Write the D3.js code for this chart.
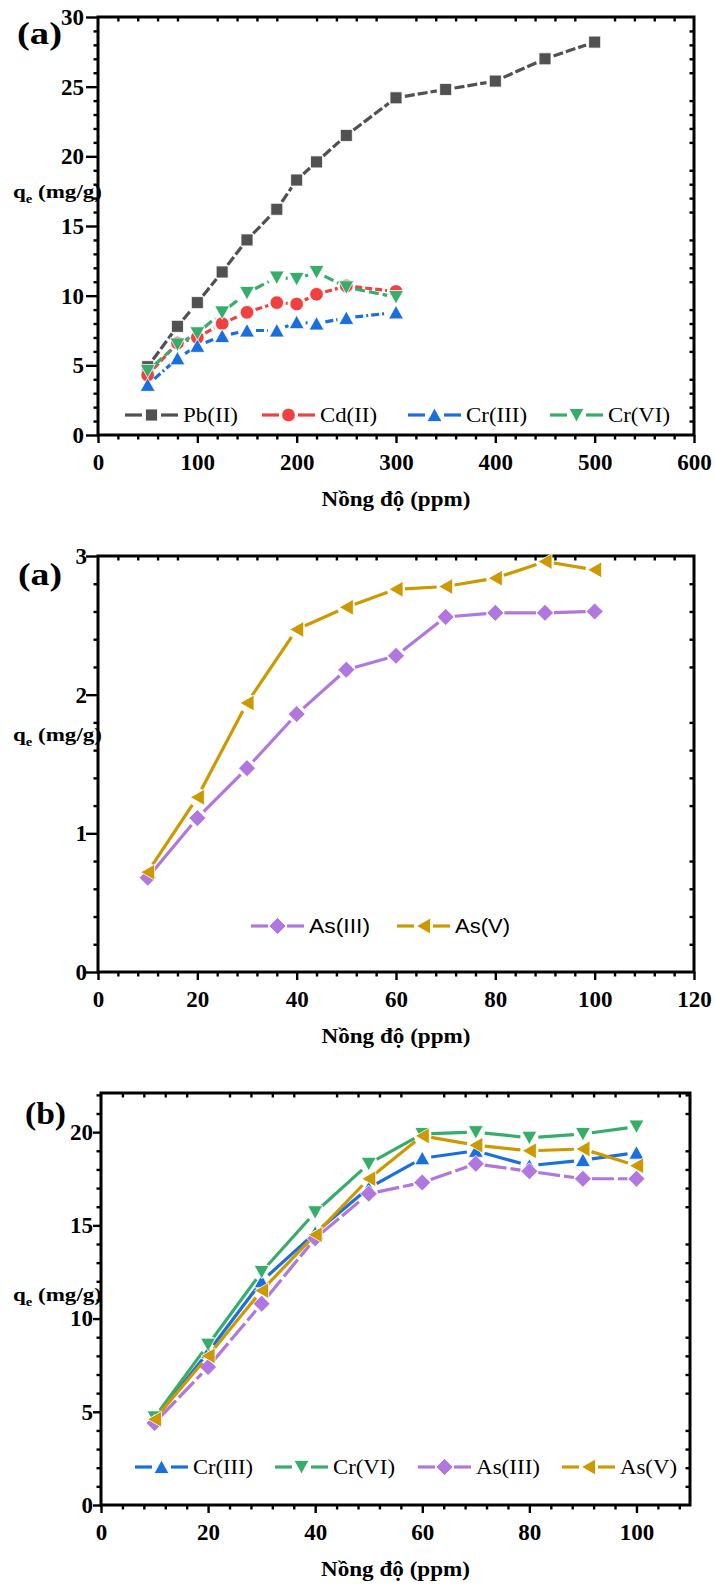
<!DOCTYPE html>
<html>
<head>
<meta charset="utf-8">
<script src="https://cdn.jsdelivr.net/npm/d3@7"></script>
<style>
  body { margin: 0; background: #fff; }
  svg { display: block; }
</style>
</head>
<body>
<div id="chart"></div>
<script>
// ---- data ----
// panel 1 : Pb, Cd, Cr(III), Cr(VI)
const concPb = [50, 80, 100, 125, 150, 180, 200, 220, 250, 300, 350, 400, 450, 500];
const qPb    = [4.9, 7.8, 9.5, 11.7, 14.0, 16.2, 18.3, 19.6, 21.5, 24.2, 24.8, 25.4, 27.0, 28.2];
const concMetal = [50, 80, 100, 125, 150, 180, 200, 220, 250, 300];
const qCd    = [4.3, 6.6, 7.0, 8.0, 8.8, 9.5, 9.4, 10.1, 10.7, 10.3];
const qCr3a  = [3.6, 5.5, 6.4, 7.1, 7.5, 7.5, 8.1, 8.0, 8.4, 8.8];
const qCr6a  = [4.6, 6.5, 7.3, 8.8, 10.2, 11.3, 11.2, 11.7, 10.6, 9.9];

// panel 2 : As(III), As(V)
const concAs = [10, 20, 30, 40, 50, 60, 70, 80, 90, 100];
const qAs3a  = [0.68, 1.11, 1.47, 1.86, 2.18, 2.28, 2.56, 2.59, 2.59, 2.60];
const qAs5a  = [0.72, 1.26, 1.94, 2.47, 2.63, 2.76, 2.78, 2.84, 2.96, 2.90];

// panel 3 : Cr(III), Cr(VI), As(III), As(V)
const concB  = [10, 20, 30, 40, 50, 60, 70, 80, 90, 100];
const qCr3b  = [4.6, 8.2, 12.0, 14.6, 17.0, 18.6, 19.0, 18.2, 18.5, 18.9];
const qCr6b  = [4.7, 8.6, 12.5, 15.7, 18.3, 19.9, 20.0, 19.7, 19.9, 20.3];
const qAs3b  = [4.4, 7.4, 10.8, 14.3, 16.7, 17.3, 18.3, 17.9, 17.5, 17.5];
const qAs5b  = [4.6, 8.0, 11.5, 14.5, 17.5, 19.8, 19.3, 19.0, 19.1, 18.2];

const xTitle = 'Nồng độ (ppm)';

// Origin default colours
const C = {
  pb: '#515151', cd: '#F14040', cr3: '#1A6FDF', cr6: '#37AD6B', as3: '#B177DE', as5: '#CC9900'
};

const serif = "'Liberation Serif', 'Times New Roman', serif";
const sans = "'Liberation Sans', Arial, sans-serif";

const panels = [
  {
    box: {l: 98, r: 694, t: 17, b: 435},
    xDom: [0, 600], yDom: [0, 30],
    xMaj: 100, xMin: 20, yMaj: 5, yMin: 1,
    yTick: 12, yPad: 2,
    tag: '(a)', tagX: 17, tagY: 44, tagW: 45,
    yTitleY: 198,
    legend: {y: 415, xs: [125, 262, 408, 550], font: serif, widths: [55, 57, 61, 62]},
    series: [
      {name: 'Pb(II)',  xs: concPb,    ys: qPb,   color: C.pb,  shape: 'square', dash: '10,3'},
      {name: 'Cd(II)',  xs: concMetal, ys: qCd,   color: C.cd,  shape: 'circle', dash: '7,3'},
      {name: 'Cr(III)', xs: concMetal, ys: qCr3a, color: C.cr3, shape: 'up',     dash: '8,3,2,3'},
      {name: 'Cr(VI)',  xs: concMetal, ys: qCr6a, color: C.cr6, shape: 'down',   dash: '10,4'}
    ]
  },
  {
    box: {l: 98, r: 694, t: 556, b: 972},
    xDom: [0, 120], yDom: [0, 3],
    xMaj: 20, xMin: 4, yMaj: 1, yMin: 0.2,
    yTick: 12, yPad: -1,
    tag: '(a)', tagX: 18, tagY: 585, tagW: 44,
    yTitleY: 741,
    legend: {y: 926, xs: [251, 397], font: sans, widths: [61, 55]},
    series: [
      {name: 'As(III)', xs: concAs, ys: qAs3a, color: C.as3, shape: 'diamond', dash: null},
      {name: 'As(V)',   xs: concAs, ys: qAs5a, color: C.as5, shape: 'left',    dash: null}
    ]
  },
  {
    box: {l: 101, r: 690, t: 1093, b: 1505},
    xDom: [0, 110], yDom: [0, 22.1],
    xMaj: 20, xMin: 4, yMaj: 5, yMin: 1,
    yTick: 8, yPad: 0, xMajMax: 100,
    tag: '(b)', tagX: 25, tagY: 1124, tagW: 41,
    yTitleY: 1301,
    legend: {y: 1467, xs: [135, 275, 418, 562], font: serif, widths: [60, 62, 64, 57]},
    series: [
      {name: 'Cr(III)', xs: concB, ys: qCr3b, color: C.cr3, shape: 'up',      dash: null},
      {name: 'Cr(VI)',  xs: concB, ys: qCr6b, color: C.cr6, shape: 'down',    dash: null},
      {name: 'As(III)', xs: concB, ys: qAs3b, color: C.as3, shape: 'diamond', dash: '22,4'},
      {name: 'As(V)',   xs: concB, ys: qAs5b, color: C.as5, shape: 'left',    dash: null}
    ]
  }
];

const svg = d3.select('#chart').append('svg')
  .attr('width', 715)
  .attr('height', 1584);

// marker outlines, centred on the bounding box like Origin does
function markerPath(shape) {
  switch (shape) {
    case 'square':  return 'M-6,-6h12v12h-12Z';
    case 'up':      return 'M0,-7L7.5,6.5L-7.5,6.5Z';
    case 'down':    return 'M0,7L7.5,-6.5L-7.5,-6.5Z';
    case 'left':    return 'M-7,0L7,-8L7,8Z';
    case 'diamond': return 'M0,-8.5L8.5,0L0,8.5L-8.5,0Z';
  }
  return null;
}

function drawMarker(g, shape, color, x, y) {
  if (shape === 'circle') {
    g.append('circle').attr('cx', x).attr('cy', y).attr('r', 6.8)
      .attr('fill', color).attr('stroke', '#fff').attr('stroke-width', 0.8);
  } else {
    g.append('path').attr('d', markerPath(shape))
      .attr('transform', `translate(${x},${y})`)
      .attr('fill', color).attr('stroke', '#fff').attr('stroke-width', 0.8);
  }
}

// line pieces between markers, cut back so the markers sit in a gap
function trimmedSegments(pts, trim) {
  let out = [];
  for (let i = 1; i < pts.length; i++) {
    const [x0, y0] = pts[i - 1], [x1, y1] = pts[i];
    const dx = x1 - x0, dy = y1 - y0, d = Math.hypot(dx, dy);
    if (d <= 2 * trim) continue;
    const ux = dx / d, uy = dy / d;
    out.push([[x0 + ux * trim, y0 + uy * trim], [x1 - ux * trim, y1 - uy * trim]]);
  }
  return out;
}

// ticks from lo up to (not past) hi
function stepRange(lo, hi, step) {
  const n = Math.floor((hi - lo) / step + 1e-6);
  return d3.range(0, n + 1).map(i => +(lo + i * step).toFixed(6));
}
const isMult = (v, m) => Math.abs(v / m - Math.round(v / m)) < 1e-6;

const line = d3.line();

panels.forEach(p => {
  const {l, r, t, b} = p.box;
  const g = svg.append('g');

  const xScale = d3.scaleLinear().domain(p.xDom).range([l, r]);
  const yScale = d3.scaleLinear().domain(p.yDom).range([b, t]);

  const xMajors = stepRange(p.xDom[0], p.xMajMax || p.xDom[1], p.xMaj);
  const xMinors = stepRange(p.xDom[0], p.xDom[1], p.xMin).filter(v => !isMult(v, p.xMaj));
  const yMajors = stepRange(p.yDom[0], p.yDom[1], p.yMaj);
  const yMinors = stepRange(p.yDom[0], p.yDom[1], p.yMin).filter(v => !isMult(v, p.yMaj));

  // ---- axes ----
  const axes = g.append('g').attr('class', 'axes');

  axes.append('g').attr('transform', `translate(0,${b})`)
    .call(d3.axisBottom(xScale).tickValues(xMajors).tickSize(8).tickPadding(10.7)
      .tickFormat(d3.format('d')));
  axes.append('g').attr('transform', `translate(0,${b})`)
    .call(d3.axisBottom(xScale).tickValues(xMinors).tickSize(4.5).tickFormat(''));
  axes.append('g').attr('transform', `translate(0,${t})`)
    .call(d3.axisTop(xScale).tickValues(xMinors).tickSize(-4.5).tickFormat(''));

  axes.append('g').attr('transform', `translate(${l},0)`)
    .call(d3.axisLeft(yScale).tickValues(yMajors).tickSize(p.yTick).tickPadding(p.yPad)
      .tickFormat(d3.format('d')));
  axes.append('g').attr('transform', `translate(${l},0)`)
    .call(d3.axisLeft(yScale).tickValues(yMinors).tickSize(4.5).tickFormat(''));
  axes.append('g').attr('transform', `translate(${r},0)`)
    .call(d3.axisRight(yScale).tickValues(yMinors).tickSize(-4.5).tickFormat(''));

  axes.selectAll('.domain').remove();
  axes.selectAll('.tick line').attr('stroke', '#000').attr('stroke-width', 2.4);
  axes.selectAll('.tick text')
    .attr('fill', '#000')
    .style('font-family', serif)
    .style('font-weight', 'bold')
    .style('font-size', '23px');

  // frame
  axes.append('rect')
    .attr('x', l).attr('y', t)
    .attr('width', r - l).attr('height', b - t)
    .attr('fill', 'none').attr('stroke', '#000').attr('stroke-width', 3);

  // ---- series ----
  const dataCont = g.append('g').attr('class', 'dataCont');
  p.series.forEach(s => {
    const pts = s.xs.map((x, i) => [xScale(x), yScale(s.ys[i])]);
    const sg = dataCont.append('g');
    trimmedSegments(pts, 9).forEach(seg => {
      sg.append('path')
        .attr('d', line(seg))
        .attr('fill', 'none')
        .attr('stroke', s.color)
        .attr('stroke-width', 3.2)
        .attr('stroke-dasharray', s.dash);
    });
    pts.forEach(([x, y]) => drawMarker(sg, s.shape, s.color, x, y));
  });

  // ---- legend ----
  const leg = g.append('g').attr('class', 'legend');
  p.series.forEach((s, i) => {
    const x0 = p.legend.xs[i], y0 = p.legend.y;
    leg.append('path').attr('d', line([[x0, y0], [x0 + 17, y0]]))
      .attr('stroke', s.color).attr('stroke-width', 3.2).attr('fill', 'none');
    leg.append('path').attr('d', line([[x0 + 36, y0], [x0 + 53, y0]]))
      .attr('stroke', s.color).attr('stroke-width', 3.2).attr('fill', 'none');
    drawMarker(leg, s.shape, s.color, x0 + 26.5, y0);
    leg.append('text')
      .attr('x', x0 + 58).attr('y', y0 + 7)
      .attr('textLength', p.legend.widths[i])
      .attr('lengthAdjust', 'spacingAndGlyphs')
      .style('font-family', p.legend.font)
      .style('font-size', '21px')
      .text(s.name);
  });

  // ---- titles ----
  g.append('text')
    .attr('x', (l + r) / 2).attr('y', b + 71)
    .attr('text-anchor', 'middle')
    .attr('textLength', 149).attr('lengthAdjust', 'spacingAndGlyphs')
    .style('font-family', serif).style('font-weight', 'bold').style('font-size', '21px')
    .text(xTitle);

  const yt = g.append('text')
    .attr('x', 13).attr('y', p.yTitleY)
    .attr('textLength', 89).attr('lengthAdjust', 'spacingAndGlyphs')
    .style('font-family', serif).style('font-weight', 'bold').style('font-size', '19px');
  yt.append('tspan').text('q');
  yt.append('tspan').attr('dy', 5).style('font-size', '12px').text('e');
  yt.append('tspan').attr('dy', -5).text(' (mg/g)');

  g.append('text')
    .attr('x', p.tagX).attr('y', p.tagY)
    .attr('textLength', p.tagW).attr('lengthAdjust', 'spacingAndGlyphs')
    .style('font-family', serif).style('font-weight', 'bold').style('font-size', '32px')
    .text(p.tag);
});
</script>
</body>
</html>
